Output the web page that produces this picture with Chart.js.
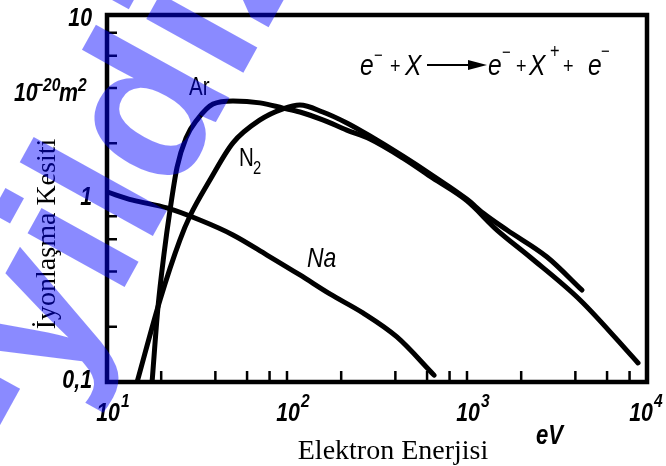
<!DOCTYPE html>
<html>
<head>
<meta charset="utf-8">
<script src="https://cdn.jsdelivr.net/npm/chart.js@4"></script>
<style>
  html, body { margin: 0; padding: 0; background: #fff; }
  #wrap { width: 666px; height: 466px; }
</style>
</head>
<body>
<div id="wrap"><canvas id="canva"></canvas></div>
<script>
// electron energy (eV) and ionisation cross-section (1e-20 m^2)
var arEnergy = [17.8, 19.2, 20.7, 22.4, 24.5, 27.5, 31.6, 38.8, 50.1, 70.8, 95, 118, 158, 215, 289, 441, 647, 1000, 1468, 2239, 4246, 8913];
var arSigma  = [0.1, 0.256, 0.492, 0.866, 1.48, 2.14, 2.68, 3.27, 3.40, 3.32, 3.11, 2.96, 2.68, 2.36, 2.11, 1.66, 1.29, 0.97, 0.673, 0.48, 0.28, 0.127];
var n2Energy = [14.7, 19.7, 25.4, 28.9, 37.3, 50.1, 70.8, 95, 118, 158, 215, 289, 441, 647, 1000, 1227, 1668, 2783, 4350];
var n2Sigma  = [0.1, 0.28, 0.594, 0.803, 1.26, 2.01, 2.68, 3.08, 3.23, 2.96, 2.58, 2.19, 1.70, 1.33, 0.99, 0.834, 0.673, 0.48, 0.317];
var naEnergy = [10, 13.9, 21.5, 32.8, 50.1, 77.4, 118, 173, 264, 408, 656];
var naSigma  = [1.085, 0.98, 0.888, 0.763, 0.633, 0.492, 0.383, 0.302, 0.238, 0.176, 0.109];

var xMinor = [20, 40, 60, 80, 100, 200, 400, 600, 800, 1000, 2000, 4000, 6000, 8000];
var yMinor = [0.2, 0.4, 0.6, 0.8, 2, 4, 6, 8];
var xTickVals = [10, 100, 1000, 10000];
var xTickExp = ["1", "2", "3", "4"];
var yTickVals = [0.1, 1, 10];
var yTickText = ["0,1", "1", "10"];

function pts(xs, ys) {
  return xs.map(function (x, i) { return { x: x, y: ys[i] }; });
}

var sans = '"Liberation Sans", Arial, sans-serif';

function txt(ctx, s, x, y, size, style, align, sx) {
  ctx.save();
  ctx.translate(x, y);
  ctx.scale(sx || 0.82, 1);
  ctx.font = style + ' ' + size + 'px ' + sans;
  ctx.textAlign = align || 'left';
  ctx.textBaseline = 'alphabetic';
  ctx.fillStyle = '#000';
  ctx.fillText(s, 0, 0);
  ctx.restore();
}

var decor = {
  id: 'decor',
  afterDraw: function (chart) {
    var ctx = chart.ctx;
    var a = chart.chartArea;
    var xs = chart.scales.x, ys = chart.scales.y;

    // frame
    ctx.save();
    ctx.strokeStyle = '#000';
    ctx.lineWidth = 4.5;
    ctx.strokeRect(a.left, a.top, a.right - a.left, a.bottom - a.top);

    // inward minor ticks
    ctx.lineWidth = 2.5;
    ctx.beginPath();
    xMinor.forEach(function (v) {
      var px = xs.getPixelForValue(v);
      ctx.moveTo(px, a.bottom);
      ctx.lineTo(px, a.bottom - 11);
    });
    yMinor.forEach(function (v) {
      var py = ys.getPixelForValue(v);
      ctx.moveTo(a.left, py);
      ctx.lineTo(a.left + 10, py);
    });
    ctx.stroke();
    ctx.restore();

    // tick labels
    xTickVals.forEach(function (v, i) {
      var px = Math.min(xs.getPixelForValue(v), 640);
      txt(ctx, '10', px + 1, 421, 26, 'italic bold', 'center');
      txt(ctx, xTickExp[i], px + 14, 407, 19, 'italic bold', 'left');
    });
    yTickVals.forEach(function (v, i) {
      var py = ys.getPixelForValue(v);
      txt(ctx, yTickText[i], 92, Math.max(py + 6, 26), 26, 'italic bold', 'right');
    });
    txt(ctx, '10', 14, 101, 26, 'italic bold', 'left');
    txt(ctx, '\u221220', 34, 91, 19, 'italic bold', 'left');
    txt(ctx, 'm', 59, 101, 26, 'italic bold', 'left');
    txt(ctx, '2', 78, 91, 19, 'italic bold', 'left');
    txt(ctx, 'eV', 536, 444, 27, 'italic bold', 'left');

    // curve names
    txt(ctx, 'Ar', 189, 95, 25, 'normal', 'left');
    txt(ctx, 'N', 239, 166, 25, 'normal', 'left');
    txt(ctx, '2', 253, 174, 18, 'normal', 'left');
    txt(ctx, 'Na', 307, 267, 28, 'italic', 'left');

    // reaction
    txt(ctx, 'e', 360, 75, 30, 'italic', 'left');
    txt(ctx, '\u2212', 374, 61, 18, 'normal', 'left');
    txt(ctx, '+', 390, 73, 22, 'normal', 'left');
    txt(ctx, 'X', 405, 75, 30, 'italic', 'left');
    txt(ctx, 'e', 488, 75, 30, 'italic', 'left');
    txt(ctx, '\u2212', 502, 58, 18, 'normal', 'left');
    txt(ctx, '+', 516, 73, 22, 'normal', 'left');
    txt(ctx, 'X', 529, 75, 30, 'italic', 'left');
    txt(ctx, '+', 550, 58, 20, 'normal', 'left');
    txt(ctx, '+', 563, 73, 22, 'normal', 'left');
    txt(ctx, 'e', 588, 75, 30, 'italic', 'left');
    txt(ctx, '\u2212', 601, 57, 18, 'normal', 'left');
    ctx.save();
    ctx.strokeStyle = '#000';
    ctx.lineWidth = 2;
    ctx.beginPath();
    ctx.moveTo(427, 65);
    ctx.lineTo(472, 65);
    ctx.stroke();
    ctx.beginPath();
    ctx.moveTo(487, 65);
    ctx.lineTo(468, 60);
    ctx.lineTo(468, 70);
    ctx.closePath();
    ctx.fillStyle = '#000';
    ctx.fill();
    ctx.restore();

    // axis titles
    ctx.save();
    ctx.fillStyle = '#000';
    ctx.font = '28px "Liberation Serif", "Times New Roman", serif';
    ctx.textAlign = 'center';
    ctx.textBaseline = 'alphabetic';
    ctx.fillText('Elektron Enerjisi', 393, 459);
    ctx.translate(55, 234);
    ctx.rotate(-Math.PI / 2);
    ctx.fillText('İyonlaşma Kesiti', 0, 0);
    ctx.restore();

    // watermark
    ctx.save();
    ctx.translate(27, 463);
    ctx.rotate(-61 * Math.PI / 180);
    ctx.font = 'bold 210px ' + sans;
    ctx.fillStyle = 'rgba(0, 0, 255, 0.46)';
    ctx.textBaseline = 'alphabetic';
    ctx.fillText('-yildiz', 0, 0);
    ctx.restore();
  }
};

function line(xs, ys) {
  return {
    data: pts(xs, ys),
    borderColor: '#000',
    borderWidth: 5,
    pointRadius: 0,
    fill: false,
    cubicInterpolationMode: 'monotone',
    borderCapStyle: 'round',
    borderJoinStyle: 'round'
  };
}

var ctx = document.getElementById('canva').getContext('2d');
var config = {
  type: 'line',
  data: {
    datasets: [
      line(arEnergy, arSigma),
      line(n2Energy, n2Sigma),
      line(naEnergy, naSigma)
    ]
  },
  options: {
    responsive: true,
    maintainAspectRatio: false,
    animation: false,
    layout: { padding: { left: 107, right: 19, top: 15, bottom: 84 } },
    scales: {
      x: { type: 'logarithmic', min: 10, max: 10000, display: false },
      y: { type: 'logarithmic', min: 0.1, max: 10, display: false }
    },
    plugins: {
      legend: { display: false },
      tooltip: { enabled: false }
    }
  },
  plugins: [decor]
};
new Chart(ctx, config);
</script>
</body>
</html>
